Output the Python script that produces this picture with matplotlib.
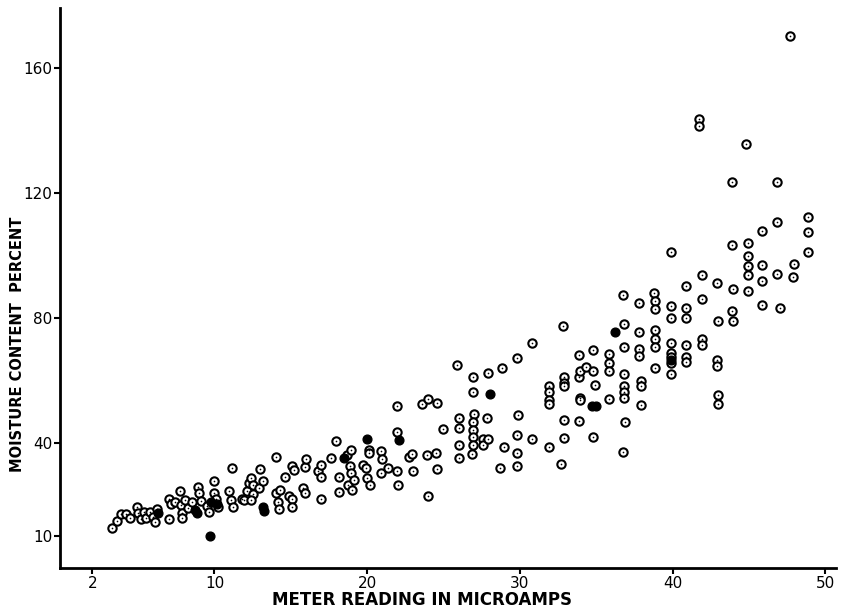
"""
Moisture content vs. meter reading scatter (scanned figure recreation)
"""
from matplotlib import pyplot as plt

# open circles (meter reading in microamps, moisture content percent)
open_x = [3.3, 3.6, 3.9, 4.2, 4.5, 4.9, 5.0, 5.2, 5.4, 5.5, 5.8, 5.95, 6.1, 6.25,
          7.0, 7.0, 7.15, 7.4, 7.75, 7.8, 7.9, 7.85, 8.1, 8.25, 8.5, 8.95, 9.0, 9.1,
          9.5, 9.65, 10.0, 10.0, 10.1, 10.25, 10.95, 11.05, 11.2, 11.15, 11.8, 11.95,
          12.1, 12.25, 12.4, 12.55, 12.55, 12.4, 12.9, 13.0, 13.2, 14.0, 14.05, 14.15,
          14.25, 14.3, 14.6, 14.9, 15.05, 15.05, 15.05, 15.2, 15.8, 15.9, 16.0, 15.95,
          16.8, 17.0, 17.0, 17.0, 17.6, 17.95, 18.15, 18.15, 18.65, 18.75, 18.85, 18.95,
          18.95, 19.0, 19.15, 19.7, 20.1, 20.1, 20.0, 20.2, 19.95, 20.9, 21.0, 20.9,
          21.35, 21.95, 21.95, 21.95, 22.0, 22.75, 22.9, 23.0, 23.6, 23.95, 23.9, 23.95,
          24.5, 24.6, 24.6, 24.95, 25.9, 26.0, 26.0, 26.0, 26.0, 26.9, 26.9, 27.0,
          26.95, 26.95, 26.95, 26.95, 26.85, 27.6, 27.55, 27.85, 27.9, 27.9, 28.85, 28.95,
          28.7, 29.8, 29.85, 29.8, 29.8, 29.8, 30.8, 30.8, 31.9, 31.9, 31.9, 31.9,
          31.9, 32.85, 32.9, 32.9, 32.9, 32.9, 32.9, 32.7, 33.85, 33.85, 33.9, 34.3,
          33.9, 33.95, 33.85, 34.8, 34.8, 34.9, 34.8, 35.85, 35.85, 35.85, 35.85, 36.75,
          36.8, 36.8, 36.8, 36.8, 36.8, 36.8, 36.85, 36.75, 37.8, 37.8, 37.8, 37.8,
          37.9, 37.9, 37.9, 38.8, 38.85, 38.85, 38.85, 38.85, 38.85, 38.85, 39.9, 39.9,
          39.9, 39.9, 39.9, 39.9, 39.9, 39.9, 40.85, 40.85, 40.85, 40.85, 40.9, 40.9,
          41.75, 41.75, 41.9, 41.9, 41.95, 41.95, 42.9, 42.95, 42.9, 42.9, 42.95, 42.95,
          43.85, 43.85, 43.95, 43.9, 43.95, 44.8, 44.95, 44.95, 44.95, 44.9, 44.9, 45.85,
          45.85, 45.85, 45.85, 46.8, 46.85, 46.8, 47.0, 47.7, 47.95, 47.85, 48.85, 48.85,
          48.85]
open_y = [12.6, 14.8, 17.1, 17.0, 15.8, 19.4, 17.4, 15.6, 17.7, 15.8, 17.9, 16.2, 14.4, 18.7,
          15.5, 21.9, 20.3, 21.1, 24.6, 20.0, 17.5, 15.8, 21.5, 19.0, 20.9, 25.9, 23.8, 21.2,
          19.6, 17.7, 27.8, 23.8, 21.8, 19.2, 24.6, 21.5, 19.4, 31.8, 22.0, 21.5,
          24.6, 26.9, 28.8, 26.5, 23.4, 21.5, 25.3, 31.5, 27.8, 35.3, 23.8, 20.9,
          18.7, 24.9, 29.0, 22.8, 32.6, 21.8, 19.2, 31.3, 25.3, 32.2, 34.7, 23.8,
          30.9, 32.8, 29.0, 21.8, 35.0, 40.4, 29.0, 24.3, 36.0, 26.5, 32.6, 37.5,
          30.3, 24.7, 28.0, 32.8, 37.6, 36.6, 28.8, 26.3, 32.0, 37.2, 34.7, 30.3,
          31.8, 51.7, 43.5, 30.9, 26.5, 35.3, 36.4, 30.9, 52.3, 54.0, 36.0, 23.0,
          36.6, 52.7, 31.6, 44.5, 64.9, 47.9, 44.8, 39.1, 35.1, 61.1, 56.1, 49.2,
          46.7, 44.2, 41.9, 39.1, 36.4, 41.3, 39.1, 47.9, 62.4, 41.0, 64.0, 38.5,
          31.8, 67.0, 48.8, 42.3, 36.6, 32.6, 71.8, 41.0, 58.0, 56.1, 53.6, 52.3,
          38.7, 77.5, 61.1, 59.2, 58.0, 47.3, 41.4, 33.1, 68.0, 61.1, 63.0, 64.3,
          54.2, 53.6, 46.9, 69.7, 63.0, 58.6, 41.9, 68.3, 65.5, 63.0, 54.0, 87.3,
          77.9, 70.6, 62.1, 58.0, 56.1, 54.2, 46.7, 37.0, 84.7, 75.6, 69.9, 67.8,
          59.9, 58.0, 52.1, 87.9, 85.4, 82.9, 76.2, 73.1, 70.8, 64.0, 101.1, 83.8,
          80.0, 71.8, 68.7, 67.4, 65.5, 62.1, 90.1, 83.1, 80.0, 71.2, 67.4, 65.8,
          143.9, 141.6, 93.8, 86.0, 73.3, 71.2, 91.1, 79.1, 66.5, 64.7, 55.2, 52.3,
          123.6, 103.5, 89.2, 82.1, 79.1, 135.7, 103.9, 99.9, 96.7, 93.8, 88.6, 107.9,
          97.0, 91.9, 84.0, 123.6, 110.8, 94.2, 83.1, 170.3, 97.4, 93.0, 112.3, 107.7,
          101.0]

# solid dots
filled_x = [6.3, 8.7, 8.85, 9.8, 9.7, 10.15, 13.2, 13.25, 18.5, 20.0, 22.05, 28.05,
            34.7, 34.95, 36.2, 39.9]
filled_y = [17.5, 18.4, 17.5, 20.9, 10.2, 20.3, 19.2, 18.2, 35.1, 41.0, 40.8, 55.7,
            51.7, 51.7, 75.6, 66.5]

x_ticks = [2, 10, 20, 30, 40, 50]
y_ticks = [10, 40, 80, 120, 160]


def main():
    fig = plt.figure(figsize=(8.48, 6.13), dpi=100)
    ax = fig.add_axes([0.071, 0.073, 0.915, 0.914])

    ax.plot(open_x, open_y, 'o', ms=6.0, mfc='white', mec='black', mew=1.5)
    ax.plot(open_x, open_y, 'o', ms=1.2, color='black', mew=0)
    ax.plot(filled_x, filled_y, 'o', ms=6.3, color='black')

    ax.set_xlim(-0.1, 50.7)
    ax.set_ylim(-0.3, 179.4)
    ax.set_xticks(x_ticks)
    ax.set_yticks(y_ticks)
    ax.tick_params(width=1.5, length=4, labelsize=11, pad=1.5)

    for side in ['top', 'right']:
        ax.spines[side].set_visible(False)
    for side in ['left', 'bottom']:
        ax.spines[side].set_linewidth(2)

    ax.set_xlabel("METER READING IN MICROAMPS", fontsize=12, fontweight='bold')
    ax.set_ylabel("MOISTURE CONTENT  PERCENT", fontsize=10.5, fontweight='bold')
    ax.xaxis.set_label_coords(0.466, -0.041)
    ax.yaxis.set_label_coords(-0.046, 0.40)

    plt.savefig('out.png', dpi=100)


if __name__ == "__main__":
    main()
